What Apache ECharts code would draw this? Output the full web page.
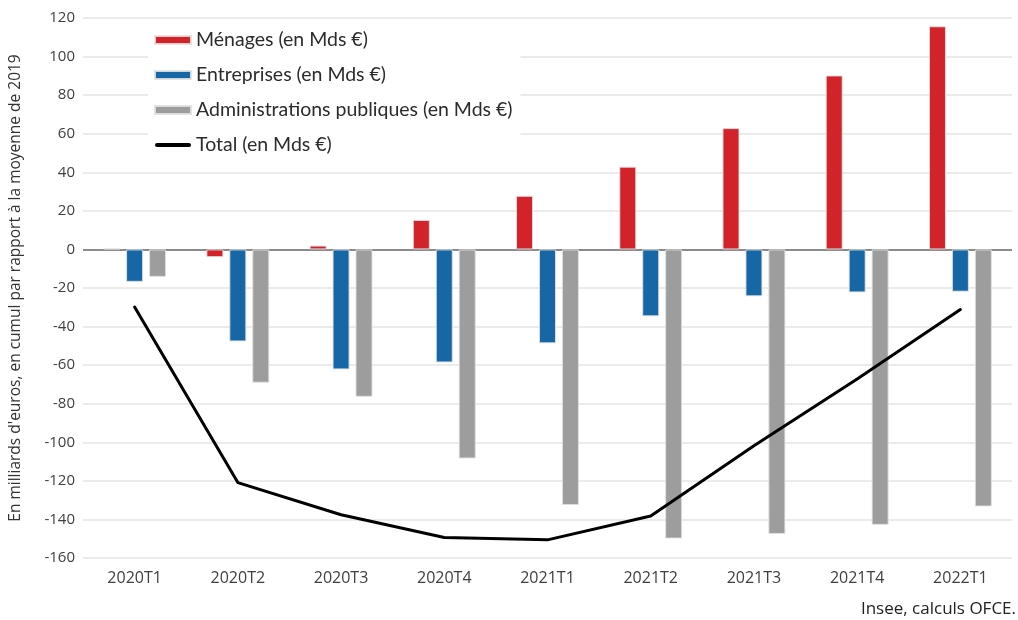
<!DOCTYPE html>
<html>
<head>
<meta charset="utf-8">
<script src="https://cdn.jsdelivr.net/npm/echarts@6/dist/echarts.min.js"></script>
<style>
html,body{margin:0;padding:0;background:#fff;}
#main{width:1018px;height:620px;}
</style>
</head>
<body>
<div id="main"></div>
<script>
const categories = ['2020T1','2020T2','2020T3','2020T4','2021T1','2021T2','2021T3','2021T4','2022T1'];
const menages = [0.5, -4, 2, 15.3, 27.8, 42.9, 62.9, 90.2, 115.7];
const entreprises = [-16.8, -47.7, -62.2, -58.6, -48.7, -34.7, -24.3, -22.3, -21.9];
const administrations = [-14.2, -69.1, -76.4, -108.4, -132.5, -149.9, -147.5, -142.8, -133.3];
const total = [-29.9, -120.9, -137.6, -149.4, -150.6, -138.2, -101.8, -67.2, -31.2];
const seriesNames = ['Ménages (en Mds €)','Entreprises (en Mds €)','Administrations publiques (en Mds €)','Total (en Mds €)'];
const yTicks = {min:-160, max:120, interval:20};
const yName = "En milliards d'euros, en cumul par rapport à la moyenne de 2019";
const source = 'Insee, calculs OFCE.';

const chart = echarts.init(document.getElementById('main'));
const tickFont = '"Open Sans", "Noto Sans", sans-serif';
const barStyle = c => ({color:c, borderColor:'rgba(225,225,225,0.9)', borderWidth:1});
chart.setOption({
  animation:false,
  backgroundColor:'#fff',
  grid:{left:81, right:6, top:18, bottom:62, containLabel:false},
  legend:{
    orient:'vertical', left:148, top:24,
    backgroundColor:'#fff', padding:[6,8,8,6],
    itemWidth:36, itemHeight:8, itemGap:15, symbolKeepAspect:true,
    textStyle:{fontFamily:'Lato, "Open Sans", sans-serif', fontSize:19.5, lineHeight:20, color:'#2b2b2b'},
    data:[
      {name:seriesNames[0], icon:'rect'},
      {name:seriesNames[1], icon:'rect'},
      {name:seriesNames[2], icon:'rect'},
      {name:seriesNames[3], icon:'path://M2,0H34A2,2 0 0 1 34,4H2A2,2 0 0 1 2,0Z', itemStyle:{color:'#000'}}
    ]
  },
  xAxis:{
    type:'category', data:categories,
    axisLine:{show:false, onZero:false},
    axisTick:{show:false},
    axisLabel:{fontFamily:tickFont, fontSize:16, color:'#404040', margin:12},
    splitLine:{show:false}
  },
  yAxis:{
    type:'value', min:yTicks.min, max:yTicks.max, interval:yTicks.interval,
    name:yName, nameLocation:'middle', nameRotate:90, nameGap:59,
    nameTextStyle:{fontFamily:tickFont, fontSize:15.5, color:'#333'},
    axisLine:{show:false}, axisTick:{show:false},
    axisLabel:{fontFamily:tickFont, fontSize:15, color:'#404040', margin:8},
    splitLine:{lineStyle:{color:'#ebebe7', width:2}}
  },
  series:[
    {name:seriesNames[0], type:'bar', data:menages, barWidth:17, barGap:'35%',
     itemStyle:barStyle('#D2222A'),
     markLine:{silent:true, symbol:'none', label:{show:false}, z:1,
       lineStyle:{color:'#8c8c8c', width:2, type:'solid'}, data:[{yAxis:0}]}},
    {name:seriesNames[1], type:'bar', data:entreprises, barWidth:17, barGap:'35%',
     itemStyle:barStyle('#1767A7')},
    {name:seriesNames[2], type:'bar', data:administrations, barWidth:17, barGap:'35%',
     itemStyle:barStyle('#9C9D9C')},
    {name:seriesNames[3], type:'line', data:total, symbol:'none', z:5,
     lineStyle:{color:'#000', width:3, cap:'round', join:'round'}, itemStyle:{color:'#000'}}
  ],
  graphic:[{type:'text', right:2, bottom:2,
    style:{text:source, fontFamily:tickFont, fontSize:17, fill:'#222'}}]
});
</script>
</body>
</html>
